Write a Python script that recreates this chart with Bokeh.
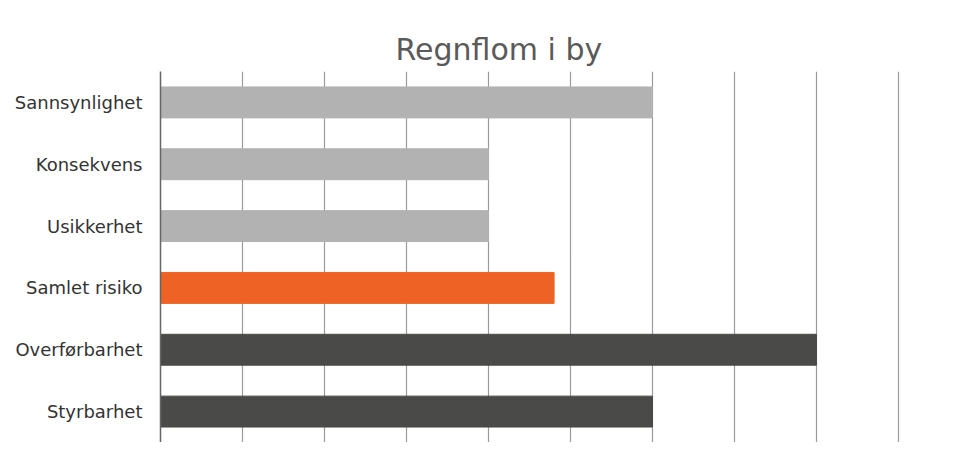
from bokeh.plotting import figure
from bokeh.embed import file_html
from bokeh.resources import INLINE
from bokeh.models import ColumnDataSource, SingleIntervalTicker, FixedTicker, Range1d, LinearAxis, Title

categories = ["Sannsynlighet", "Konsekvens", "Usikkerhet", "Samlet risiko", "Overførbarhet", "Styrbarhet"]
values = [6, 4, 4, 4.8, 8, 6]
colors = ["#b2b2b2", "#b2b2b2", "#b2b2b2", "#ee6325", "#4a4a48", "#4a4a48"]

src = ColumnDataSource(dict(cat=categories, val=values, color=colors))

p = figure(width=959, height=442, y_range=list(reversed(categories)),
           x_range=Range1d(0, 9.025), output_backend="svg", toolbar_location=None,
           min_border_left=160, min_border_right=59, min_border_top=71, min_border_bottom=0)
p.hbar(y="cat", right="val", left=0, height=0.5, color="color", source=src)
p.title = None

title = Title(text="Regnflom i by", text_font="DejaVu Sans", text_font_size="30px",
              text_font_style="normal", text_color="#5a5a5a", align="left",
              vertical_align="bottom", offset=235, standoff=10)
p.add_layout(title, "above")

# empty axis above: only a spacer between the title and the plot area
spacer = LinearAxis(ticker=FixedTicker(ticks=[0]), axis_line_color=None,
                    major_tick_line_color=None, minor_tick_line_color=None,
                    major_tick_out=17, major_tick_in=0, minor_tick_out=0,
                    major_label_standoff=0, major_label_text_font_size="0px",
                    major_label_overrides={0: ""})
p.add_layout(spacer, "above")

for ax in p.xaxis:
    if ax is not spacer:
        ax.visible = False

p.xgrid.ticker = SingleIntervalTicker(interval=1)
p.xgrid.grid_line_color = "#9a9a9a"
p.xgrid.grid_line_width = 1.2
p.ygrid.grid_line_color = None

p.yaxis.axis_line_color = "#666666"
p.yaxis.axis_line_width = 1.5
p.yaxis.major_tick_line_color = None
p.yaxis.minor_tick_line_color = None
p.yaxis.major_tick_in = 0
p.yaxis.major_tick_out = 0
p.yaxis.major_label_standoff = 18
p.yaxis.major_label_text_font = "DejaVu Sans"
p.yaxis.major_label_text_font_size = "18px"
p.yaxis.major_label_text_font_style = "normal"
p.yaxis.major_label_text_color = "#333333"

p.outline_line_color = None
p.background_fill_color = "white"
p.border_fill_color = "white"

open("out.html", "w").write(file_html(p, INLINE))
